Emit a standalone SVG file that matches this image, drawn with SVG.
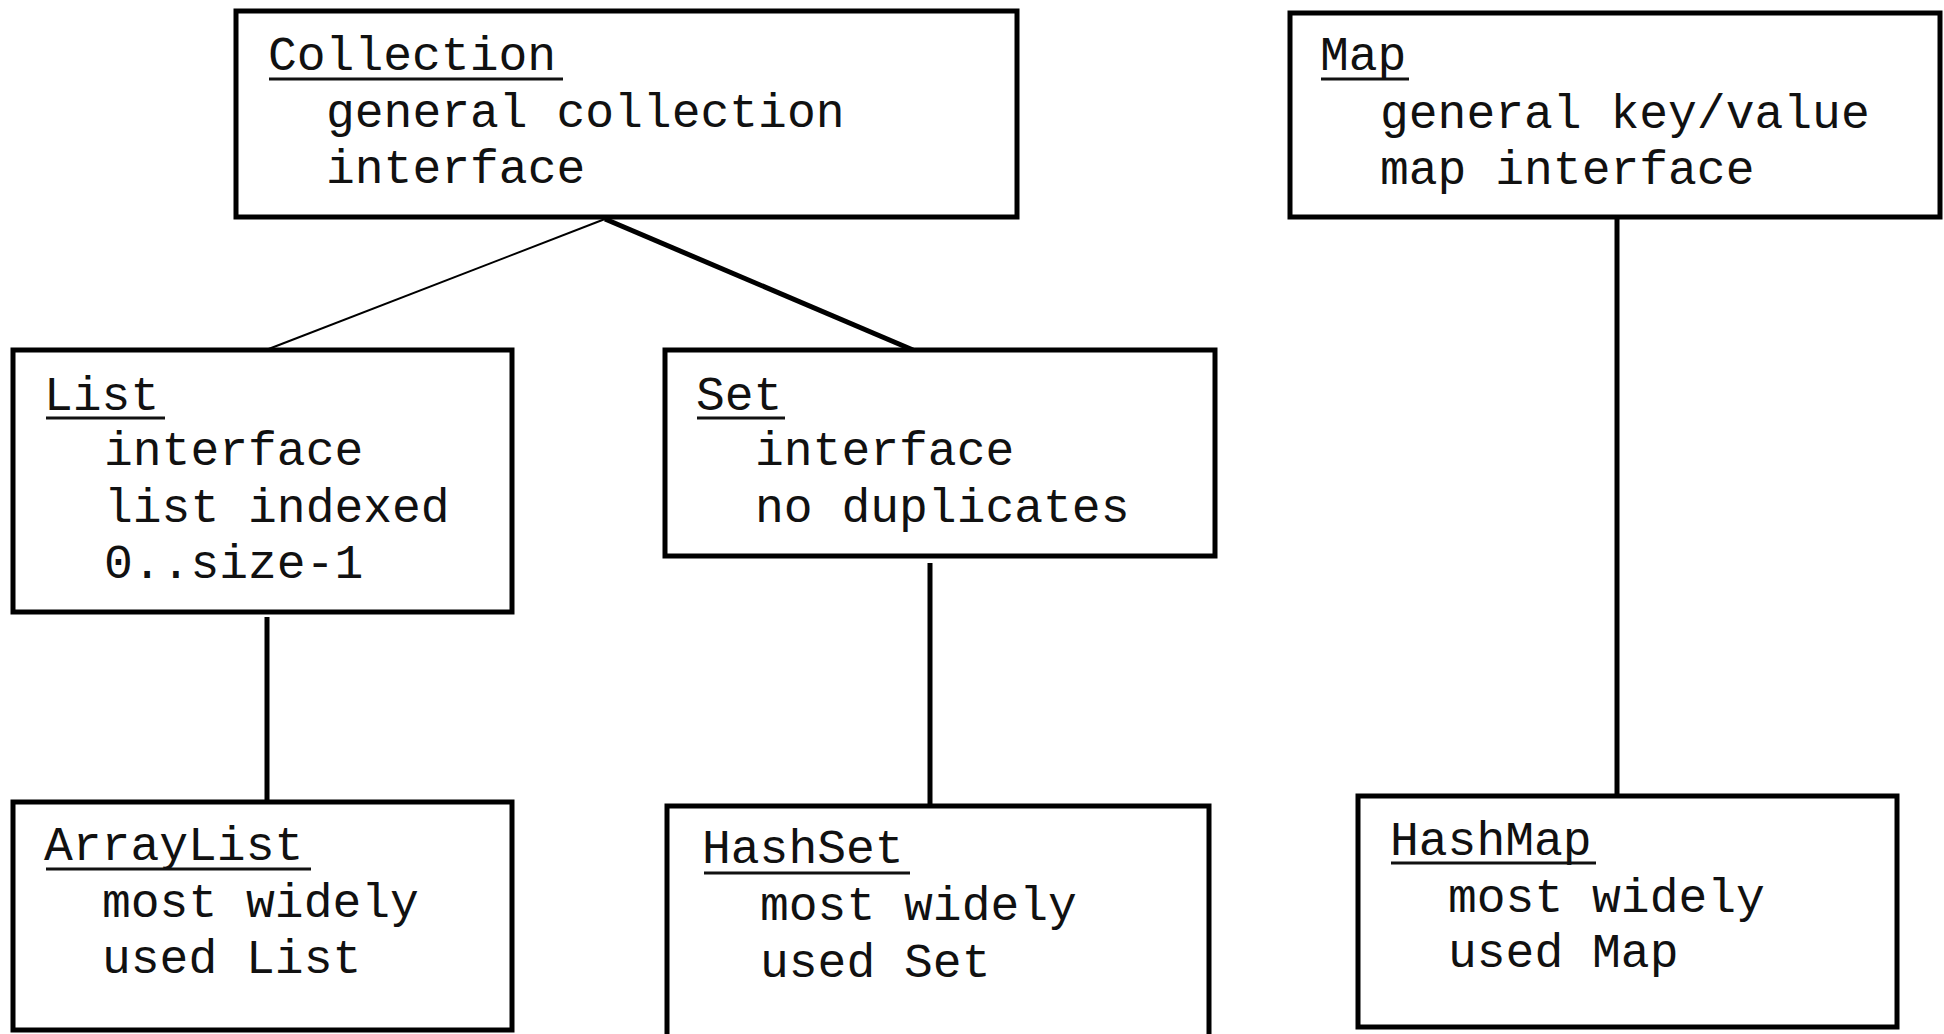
<svg xmlns="http://www.w3.org/2000/svg" width="1944" height="1034" viewBox="0 0 1944 1034">
<style>
.box{fill:#fff;stroke:#000;stroke-width:5}
.t{font-family:"Liberation Mono","Courier New",monospace;font-size:48px;fill:#111}
.ul{stroke:#111;stroke-width:3}
.c{stroke:#000;stroke-width:5;fill:none}
.thin{stroke:#000;stroke-width:2;fill:none}
</style>
<rect width="1944" height="1034" fill="#fff"/>
<g id="connectors">
<line class="thin" x1="605" y1="219" x2="266" y2="350"/>
<line class="c" x1="605" y1="219" x2="913" y2="350"/>
<line class="c" x1="267" y1="617" x2="267" y2="802"/>
<line class="c" x1="930" y1="563" x2="930" y2="805"/>
<line class="c" x1="1617" y1="217" x2="1617" y2="795"/>
</g>
<g id="collection">
<rect class="box" x="236" y="11" width="781" height="206"/>
<text class="t" x="268" y="70">Collection</text>
<line class="ul" x1="269" y1="79" x2="563" y2="79"/>
<text class="t" x="326" y="127">general collection</text>
<text class="t" x="326" y="183">interface</text>
</g>
<g id="map">
<rect class="box" x="1290" y="13" width="650" height="204"/>
<text class="t" x="1320" y="70">Map</text>
<line class="ul" x1="1321" y1="79" x2="1409" y2="79"/>
<text class="t" x="1380" y="128">general key/value</text>
<text class="t" x="1380" y="184">map interface</text>
</g>
<g id="list">
<rect class="box" x="13" y="350" width="499" height="262"/>
<text class="t" x="44" y="410">List</text>
<line class="ul" x1="46" y1="418" x2="165" y2="418"/>
<text class="t" x="104" y="465">interface</text>
<text class="t" x="104" y="522">list indexed</text>
<text class="t" x="104" y="578">0..size-1</text>
</g>
<g id="set">
<rect class="box" x="665" y="350" width="550" height="206"/>
<text class="t" x="696" y="410">Set</text>
<line class="ul" x1="697" y1="418" x2="785" y2="418"/>
<text class="t" x="755" y="465">interface</text>
<text class="t" x="755" y="522">no duplicates</text>
</g>
<g id="arraylist">
<rect class="box" x="13" y="802" width="499" height="228"/>
<text class="t" x="44" y="860">ArrayList</text>
<line class="ul" x1="46" y1="869" x2="311" y2="869"/>
<text class="t" x="102" y="917">most widely</text>
<text class="t" x="102" y="973">used List</text>
</g>
<g id="hashset">
<rect class="box" x="667" y="806" width="542" height="240"/>
<text class="t" x="702" y="863">HashSet</text>
<line class="ul" x1="704" y1="873" x2="910" y2="873"/>
<text class="t" x="760" y="920">most widely</text>
<text class="t" x="760" y="977">used Set</text>
</g>
<g id="hashmap">
<rect class="box" x="1358" y="796" width="539" height="231"/>
<text class="t" x="1390" y="855">HashMap</text>
<line class="ul" x1="1391" y1="863" x2="1596" y2="863"/>
<text class="t" x="1448" y="912">most widely</text>
<text class="t" x="1448" y="967">used Map</text>
</g>
</svg>
